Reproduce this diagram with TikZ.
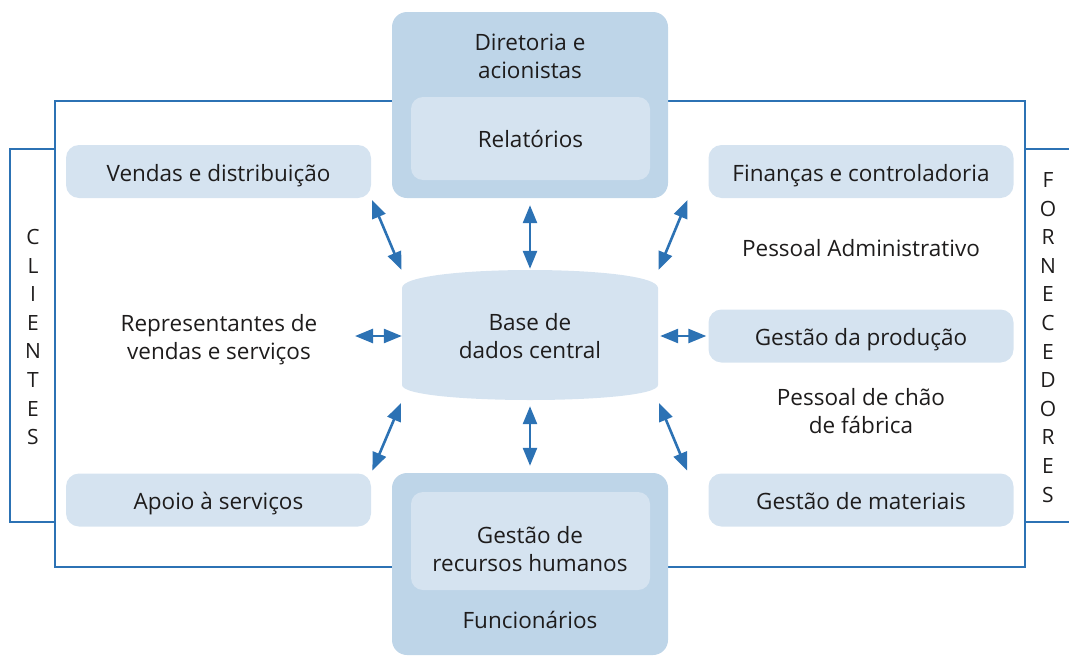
\documentclass[tikz,border=0pt]{standalone}
\usepackage{fontspec}
\setmainfont{Open Sans}
\usetikzlibrary{arrows.meta}
\definecolor{frameblue}{RGB}{44,114,180}
\definecolor{boxlight}{RGB}{213,227,240}
\definecolor{boxdark}{RGB}{190,213,232}
\definecolor{textgray}{RGB}{30,28,28}

\begin{document}
\begin{tikzpicture}[x=1pt,y=-1pt,
    blueline/.style={draw=frameblue, line width=2pt},
    txt/.style={text=textgray, align=center, inner sep=0pt, font=\fontsize{22.5}{28}\selectfont},
    areabox/.style={txt, fill=boxlight, rounded corners=13pt, minimum width=305pt, minimum height=53pt,
      text height=19pt, text depth=0pt},
    outerbox/.style={fill=boxdark, rounded corners=15pt, minimum width=276pt},
    innerbox/.style={txt, fill=boxlight, rounded corners=12pt, minimum width=239pt},
    letters/.style={text=textgray, align=center, inner sep=0pt, font=\fontsize{21}{28.6}\selectfont},
    biarrow/.style={draw=frameblue, line width=2.6pt,
      {Triangle[length=18pt,width=14pt]}-{Triangle[length=18pt,width=14pt]}}]
  \useasboundingbox (0,0) rectangle (1069,656);

  % frame and brackets
  \draw[blueline] (55,101) rectangle (1025,567);
  \draw[blueline] (55,149) -- (10,149) -- (10,522) -- (55,522);
  \draw[blueline] (1025,149) -- (1072,149);
  \draw[blueline] (1025,522) -- (1072,522);
  \node[letters] (cli) at (33,337) {C\\L\\I\\E\\N\\T\\E\\S};
  \node[letters] (forn) at (1048,337.5) {F\\O\\R\\N\\E\\C\\E\\D\\O\\R\\E\\S};

  % top and bottom blocks
  \node[outerbox, minimum height=186pt] (dir) at (530,105) {};
  \node[txt] at (530,56) {Diretoria e\\acionistas};
  \node[innerbox, minimum height=83pt] (rel) at (530.5,138.5) {Relatórios};
  \node[outerbox, minimum height=182pt] (func) at (530,564) {};
  \node[innerbox, minimum height=98pt] (rh) at (530.5,541) {};
  \node[txt] at (530,549) {Gestão de\\recursos humanos};
  \node[txt] at (530,620) {Funcionários};

  % side boxes
  \node[areabox] (vendas) at (218.5,171.5) {Vendas e distribuição};
  \node[areabox] (apoio) at (218.5,500) {Apoio à serviços};
  \node[areabox] (fin) at (861,171.5) {Finanças e controladoria};
  \node[areabox] (prod) at (861,336) {Gestão da produção};
  \node[areabox] (mat) at (861,500) {Gestão de materiais};
  \node[txt] (rep) at (219,340) {Representantes de\\vendas e serviços};
  \node[txt] (adm) at (861,248) {Pessoal Administrativo};
  \node[txt] (chao) at (861,411) {Pessoal de chão\\de fábrica};

  % central database
  \fill[boxlight] (402,288) .. controls (402,264) and (658,264) .. (658,288)
    -- (658,385) .. controls (658,405) and (402,405) .. (402,385) -- cycle;
  \node[txt, minimum width=256pt, minimum height=130pt] (base) at (530,336) {Base de\\dados central};

  % arrows
  \coordinate (repend) at (355,336);
  \draw[biarrow, shorten <=1pt, shorten >=2pt] (base.north west) -- (vendas.south east);
  \draw[biarrow, shorten <=2pt, shorten >=7pt] (base.north) -- (dir.south);
  \draw[biarrow, shorten <=1pt, shorten >=2pt] (base.north east) -- ([xshift=-20pt]fin.south west);
  \draw[biarrow] (repend) -- (base.west);
  \draw[biarrow, shorten <=2pt, shorten >=2pt] (base.east) -- (prod.west);
  \draw[biarrow, shorten <=2pt, shorten >=3pt] (base.south west) -- (apoio.north east);
  \draw[biarrow, shorten <=5pt, shorten >=7pt] (base.south) -- (func.north);
  \draw[biarrow, shorten <=2pt, shorten >=3pt] (base.south east) -- ([xshift=-20pt]mat.north west);
\end{tikzpicture}
\end{document}
